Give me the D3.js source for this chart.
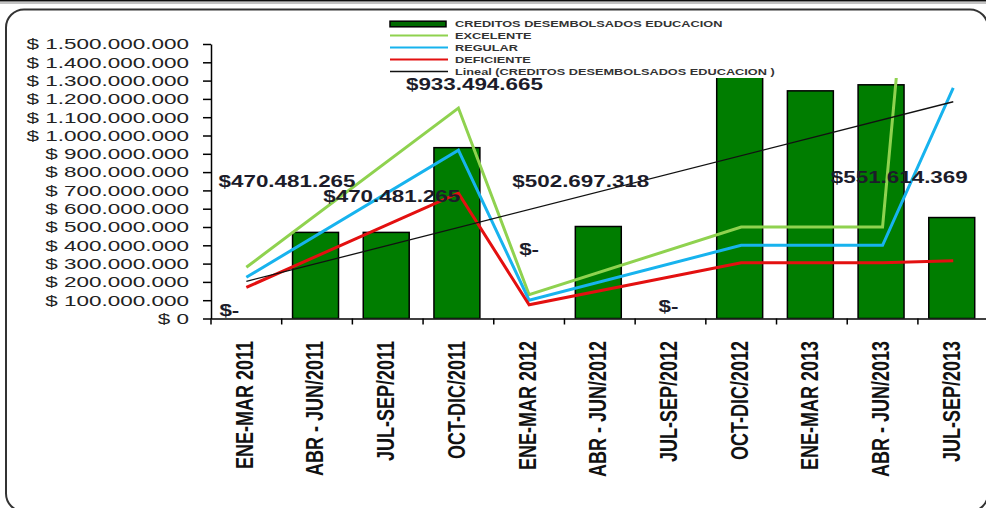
<!DOCTYPE html>
<html>
<head>
<meta charset="utf-8">
<script src="https://cdn.jsdelivr.net/npm/d3@7"></script>
<style>
  body { margin: 0; background: #fff; }
  svg { display: block; font-family: "Liberation Sans", Arial, sans-serif; }
</style>
</head>
<body>
<div id="chart"></div>
<script>
// trimestres
const categories = ["ENE-MAR 2011", "ABR - JUN/2011", "JUL-SEP/2011", "OCT-DIC/2011",
  "ENE-MAR 2012", "ABR - JUN/2012", "JUL-SEP/2012", "OCT-DIC/2012",
  "ENE-MAR 2013", "ABR - JUN/2013", "JUL-SEP/2013"];

// barras (OCT-DIC/2012 sale del area de trazado)
const creditos = [0, 470481265, 470481265, 933494665, 0, 502697318, 0,
  2180000000, 1244000000, 1277000000, 551614369];

// lineas, null = sin dato (se une igual, como en Excel)
const excelente  = [280e6, null, null, 1150e6, 130e6, null, null, 500e6, 500e6, 500e6, 4700e6];
const regular    = [225e6, null, null, 920e6, 100e6, null, null, 400e6, 400e6, 400e6, 1260e6];
const deficiente = [170e6, null, null, 685e6, 75e6, null, null, 305e6, 305e6, 305e6, 316e6];

const yTicks = d3.range(0, 1500000001, 100000000);

const legendNames = ["CREDITOS DESEMBOLSADOS EDUCACION", "EXCELENTE", "REGULAR", "DEFICIENTE",
  "Lineal (CREDITOS DESEMBOLSADOS EDUCACION )"];

// desplazamiento de las etiquetas de datos [dx, dy]
const labelNudge = [[-17, -3], [-30, -45], [4, -30], [16, -58], [0, -64], [-19, -40],
  [-2, -7], null, null, null, [-54, -35]];

var width = 986, height = 508;
var plot = {left: 211, right: 988.6, top: 44, bottom: 318.5};

var svg = d3.select("#chart").append("svg")
  .attr("width", width)
  .attr("height", height);

// marco
svg.append("line").attr("x1", 0).attr("x2", width).attr("y1", 0.8).attr("y2", 0.8)
  .attr("stroke", "#111").attr("stroke-width", 1.6);
svg.append("line").attr("x1", 0).attr("x2", width).attr("y1", 3).attr("y2", 3)
  .attr("stroke", "#888").attr("stroke-width", 1);
svg.append("rect")
  .attr("x", 6).attr("y", 9.5).attr("width", 982).attr("height", 502)
  .attr("rx", 18).attr("ry", 18)
  .attr("fill", "none").attr("stroke", "#333").attr("stroke-width", 2);

var x = d3.scaleBand()
  .domain(categories)
  .range([plot.left, plot.right])
  .padding(0);

var y = d3.scaleLinear()
  .domain([0, 1500000000])
  .range([plot.bottom, plot.top]);

var loc = d3.formatLocale({decimal: ",", thousands: ".", grouping: [3], currency: ["$", ""]});
var fmt = loc.format(",.0f");

svg.append("defs").append("clipPath").attr("id", "plotclip")
  .append("rect")
  .attr("x", plot.left).attr("y", plot.top)
  .attr("width", plot.right - plot.left + 2)
  .attr("height", plot.bottom - plot.top);

var g = svg.append("g").attr("clip-path", "url(#plotclip)");

var barW = x.bandwidth() * 0.65;

g.selectAll("rect.bar")
  .data(creditos.map(function(v, i) { return {cat: categories[i], value: v}; }))
  .enter()
  .filter(function(d) { return d.value > 0; })
  .append("rect")
  .attr("class", "bar")
  .attr("x", function(d) { return x(d.cat) + (x.bandwidth() - barW) / 2 - 1.5; })
  .attr("y", function(d) { return y(d.value); })
  .attr("width", barW)
  .attr("height", function(d) { return y(0) - y(d.value); })
  .attr("fill", "#007d00")
  .attr("stroke", "#000")
  .attr("stroke-width", 1.5);

var line = d3.line()
  .x(function(d) { return x(d.cat) + x.bandwidth() / 2; })
  .y(function(d) { return y(d.value); });

var series = [
  {values: excelente, color: "#8fd24f"},
  {values: regular, color: "#17b3ee"},
  {values: deficiente, color: "#e31010"}
];

series.forEach(function(s) {
  var pts = s.values.map(function(v, i) { return {cat: categories[i], value: v}; })
    .filter(function(d) { return d.value != null; });
  g.append("path")
    .datum(pts)
    .attr("fill", "none")
    .attr("stroke", s.color)
    .attr("stroke-width", 3)
    .attr("d", line);
});

// tendencia lineal (minimos cuadrados)
var n = creditos.length;
var mx = d3.mean(creditos, function(v, i) { return i + 1; });
var my = d3.mean(creditos);
var sxy = d3.sum(creditos, function(v, i) { return (i + 1 - mx) * (v - my); });
var sxx = d3.sum(creditos, function(v, i) { return (i + 1 - mx) * (i + 1 - mx); });
var slope = sxy / sxx;
var trend = [0, n - 1].map(function(i) {
  return {cat: categories[i], value: my + slope * (i + 1 - mx)};
});
g.append("path")
  .datum(trend)
  .attr("fill", "none")
  .attr("stroke", "#111")
  .attr("stroke-width", 1.3)
  .attr("d", line);

// ejes
svg.append("g")
  .attr("transform", "translate(" + plot.left + ",0)")
  .call(d3.axisLeft(y).tickValues(yTicks).tickSize(8).tickFormat("").tickSizeOuter(0))
  .call(function(a) { a.selectAll("path,line").attr("stroke", "#000").attr("stroke-width", 1.5); });

svg.append("g")
  .attr("transform", "translate(0," + plot.bottom + ")")
  .call(d3.axisBottom(x).tickValues([]).tickSizeOuter(0))
  .call(function(a) { a.select("path").attr("stroke", "#000").attr("stroke-width", 1.5); });

svg.append("g").selectAll("line")
  .data(categories)
  .enter().append("line")
  .attr("x1", function(d) { return x(d); })
  .attr("x2", function(d) { return x(d); })
  .attr("y1", plot.bottom)
  .attr("y2", plot.bottom + 6)
  .attr("stroke", "#000").attr("stroke-width", 1.5);

svg.append("g").selectAll("text")
  .data(yTicks)
  .enter().append("text")
  .attr("transform", function(d) { return "translate(189," + (y(d) + 5.3) + ") scale(1.5,1)"; })
  .attr("text-anchor", "end")
  .attr("font-size", 15)
  .attr("fill", "#222")
  .text(function(d) { return "$ " + fmt(d); });

svg.append("g").selectAll("text")
  .data(categories)
  .enter().append("text")
  .attr("transform", function(d) {
    return "translate(" + (x(d) + x.bandwidth() / 2 - 2) + ",341) scale(1.3,1) rotate(-90)";
  })
  .attr("text-anchor", "end")
  .attr("dy", "0.36em")
  .attr("font-size", 18)
  .attr("font-weight", "bold")
  .attr("fill", "#111")
  .text(function(d) { return d; });

// etiquetas de datos
svg.append("g").selectAll("text")
  .data(creditos.map(function(v, i) { return {i: i, value: v}; })
    .filter(function(d) { return labelNudge[d.i]; }))
  .enter().append("text")
  .attr("transform", function(d) {
    var cx = x(categories[d.i]) + x.bandwidth() / 2 + labelNudge[d.i][0];
    var cy = y(d.value) + labelNudge[d.i][1];
    return "translate(" + cx + "," + cy + ") scale(1.4,1)";
  })
  .attr("text-anchor", "middle")
  .attr("font-size", 16)
  .attr("font-weight", "bold")
  .attr("fill", "#1c1c2a")
  .text(function(d) { return d.value === 0 ? "$-" : "$" + fmt(d.value); });

// leyenda
var leg = svg.append("g");
leg.append("rect")
  .attr("x", 385).attr("y", 14).attr("width", 520).attr("height", 64)
  .attr("fill", "#fff");

var legY = [24, 35.5, 47.5, 59.5, 71.5];
var legColors = [null, "#8fd24f", "#17b3ee", "#e31010", "#111"];

leg.append("rect")
  .attr("x", 390).attr("y", legY[0] - 2.8).attr("width", 56).attr("height", 5.6)
  .attr("fill", "#006a00").attr("stroke", "#000").attr("stroke-width", 1.5);

leg.selectAll("line")
  .data(legColors.slice(1))
  .enter().append("line")
  .attr("x1", 390).attr("x2", 448)
  .attr("y1", function(d, i) { return legY[i + 1]; })
  .attr("y2", function(d, i) { return legY[i + 1]; })
  .attr("stroke", function(d) { return d; })
  .attr("stroke-width", function(d, i) { return i == 3 ? 1.5 : 2; });

leg.selectAll("text")
  .data(legendNames)
  .enter().append("text")
  .attr("transform", function(d, i) { return "translate(455," + (legY[i] + 3) + ") scale(1.5,1)"; })
  .attr("font-size", 8.5)
  .attr("font-weight", "bold")
  .attr("fill", "#333")
  .text(function(d) { return d; });
</script>
</body>
</html>
